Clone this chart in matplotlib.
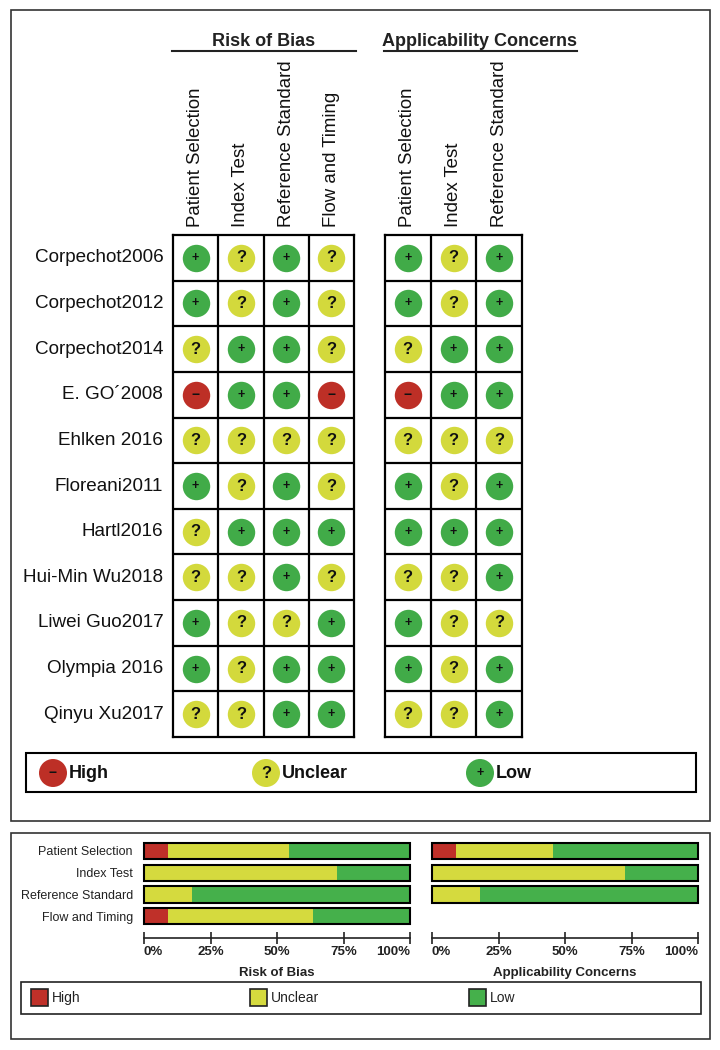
import matplotlib.pyplot as plt
from matplotlib.patches import Rectangle, Circle
import numpy as np

plt.rcParams['font.family'] = ['Liberation Sans', 'DejaVu Sans']

# ---- data (L = low, U = unclear, H = high) ----
studies = ["Corpechot2006", "Corpechot2012", "Corpechot2014", "E. GO\u00b42008",
           "Ehlken 2016", "Floreani2011", "Hartl2016", "Hui-Min Wu2018",
           "Liwei Guo2017", "Olympia 2016", "Qinyu Xu2017"]

rob_domains = ["Patient Selection", "Index Test", "Reference Standard", "Flow and Timing"]
app_domains = ["Patient Selection", "Index Test", "Reference Standard"]

rob_patient_selection = ["L", "L", "U", "H", "U", "L", "U", "U", "L", "L", "U"]
rob_index_test = ["U", "U", "L", "L", "U", "U", "L", "U", "U", "U", "U"]
rob_reference_standard = ["L", "L", "L", "L", "U", "L", "L", "L", "U", "L", "L"]
rob_flow_timing = ["U", "U", "U", "H", "U", "U", "L", "U", "L", "L", "L"]

app_patient_selection = ["L", "L", "U", "H", "U", "L", "L", "U", "L", "L", "U"]
app_index_test = ["U", "U", "L", "L", "U", "U", "L", "U", "U", "U", "U"]
app_reference_standard = ["L", "L", "L", "L", "U", "L", "L", "L", "U", "L", "L"]

rob_columns = [rob_patient_selection, rob_index_test, rob_reference_standard, rob_flow_timing]
app_columns = [app_patient_selection, app_index_test, app_reference_standard]

levels = ["H", "U", "L"]
level_names = {"H": "High", "U": "Unclear", "L": "Low"}
circle_col = {"H": "#bd2f26", "U": "#d3d93c", "L": "#41ab48"}
bar_col = {"H": "#bf3029", "U": "#d5da3e", "L": "#45b04b"}
symbols = {"H": "\u2212", "U": "?", "L": "+"}
sym_size = {"H": 10, "U": 12, "L": 9}

W, H = 720, 1050
fig = plt.figure(figsize=(7.2, 10.5), dpi=100)


def px_axes(x0, y0, x1, y1):
    ax = fig.add_axes([x0 / W, 1 - y1 / H, (x1 - x0) / W, (y1 - y0) / H])
    ax.set_facecolor("none")
    return ax


# background layer in pixel units for frames / legends
deco = fig.add_axes([0, 0, 1, 1])
deco.set_xlim(0, W)
deco.set_ylim(H, 0)
deco.axis("off")

deco.add_patch(Rectangle((11, 10), 699, 811, fill=False, lw=1.2, ec="#333333"))
deco.add_patch(Rectangle((11, 833), 699, 206, fill=False, lw=1.2, ec="#333333"))


def draw_grid(ax, columns, headers, row_labels):
    nrow = len(studies)
    ncol = len(columns)
    ax.set_xlim(-0.5, ncol - 0.5)
    ax.set_ylim(nrow - 0.5, -0.5)
    ax.set_xticks([])
    ax.set_yticks([])
    for sp in ax.spines.values():
        sp.set_linewidth(1.6)
    for k in range(1, ncol):
        ax.axvline(k - 0.5, color="black", lw=1.6)
    for k in range(1, nrow):
        ax.axhline(k - 0.5, color="black", lw=1.6)
    for j, col in enumerate(columns):
        for i, code in enumerate(col):
            ax.scatter(j, i, s=390, color=circle_col[code], linewidths=0, zorder=3)
            ax.text(j, i, symbols[code], ha="center", va="center", fontsize=sym_size[code],
                    fontweight="bold", color="#111111", zorder=4)
    for j, name in enumerate(headers):
        ax.annotate(name, xy=(j, -0.5), xytext=(0, 6), textcoords="offset points",
                    rotation=90, ha="center", va="bottom", fontsize=13.4, color="#111111")
    if row_labels:
        for i, name in enumerate(studies):
            ax.annotate(name, xy=(-0.5, i), xytext=(-7, 0), textcoords="offset points",
                        ha="right", va="center", fontsize=13.6, color="#111111")


grid_rob = px_axes(173, 235, 354, 737)
draw_grid(grid_rob, rob_columns, rob_domains, True)
grid_app = px_axes(385, 235, 522, 737)
draw_grid(grid_app, app_columns, app_domains, False)

deco.text(264, 42, "Risk of Bias", ha="center", va="center", fontsize=13,
          fontweight="bold", color="#222222")
deco.plot([172, 356], [51, 51], color="#222222", lw=1.5)
deco.text(480, 42, "Applicability Concerns", ha="center", va="center", fontsize=13,
          fontweight="bold", color="#222222")
deco.plot([384, 577], [51, 51], color="#222222", lw=1.5)

# top legend
deco.add_patch(Rectangle((26, 753), 670, 39, fill=False, lw=1.5, ec="black"))
for code, cx in zip(levels, [53, 266, 480]):
    deco.add_patch(Circle((cx, 773), 14, color=circle_col[code], lw=0))
    deco.text(cx, 773, symbols[code], ha="center", va="center", fontsize=sym_size[code],
              fontweight="bold", color="#111111")
    deco.text(cx + 16, 774, level_names[code], ha="left", va="center", fontsize=13,
              fontweight="bold", color="#111111")


# ---- summary bars ----
def draw_summary(ax, columns, labels, title):
    n_studies = len(studies)
    y = np.arange(len(columns))
    left = np.zeros(len(columns))
    for code in levels:
        pct = np.array([col.count(code) for col in columns]) / n_studies * 100
        ax.barh(y, pct, left=left, height=0.74, color=bar_col[code], lw=0)
        left += pct
    ax.barh(y, left, height=0.74, fill=False, edgecolor="black", lw=1.5, clip_on=False)
    ax.set_xlim(0, 100)
    ax.set_ylim(4.0, -0.5)
    for side in ["top", "right", "left"]:
        ax.spines[side].set_visible(False)
    ax.spines["bottom"].set_linewidth(1.2)
    ax.spines["bottom"].set_color("#222222")
    ax.set_xticks([0, 25, 50, 75, 100])
    ax.set_xticklabels(["0%", "25%", "50%", "75%", "100%"])
    ax.tick_params(axis="x", direction="inout", length=9, width=1.2, color="#222222",
                   labelsize=9.5, pad=1)
    tl = ax.get_xticklabels()
    for t in tl:
        t.set_fontweight("bold")
        t.set_color("#222222")
    tl[0].set_ha("left")
    tl[-1].set_ha("right")
    if labels:
        ax.set_yticks(y)
        ax.set_yticklabels(labels, fontsize=9, color="#222222")
        ax.tick_params(axis="y", length=0, pad=8)
    else:
        ax.set_yticks([])
    ax.set_xlabel(title, fontsize=9.5, fontweight="bold", color="#222222", labelpad=7)


sum_rob = px_axes(144, 840, 410, 938)
draw_summary(sum_rob, rob_columns, rob_domains, "Risk of Bias")
sum_app = px_axes(432, 840, 698, 938)
draw_summary(sum_app, app_columns, None, "Applicability Concerns")

# bottom legend
deco.add_patch(Rectangle((21, 982), 680, 32, fill=False, lw=1.2, ec="#222222"))
for code, px in zip(levels, [31, 250, 469]):
    deco.add_patch(Rectangle((px, 989), 17, 17, facecolor=bar_col[code], ec="#222222", lw=1.2))
    deco.text(px + 21, 998, level_names[code], ha="left", va="center", fontsize=10,
              color="#222222")

fig.savefig("out.png", dpi=100)
